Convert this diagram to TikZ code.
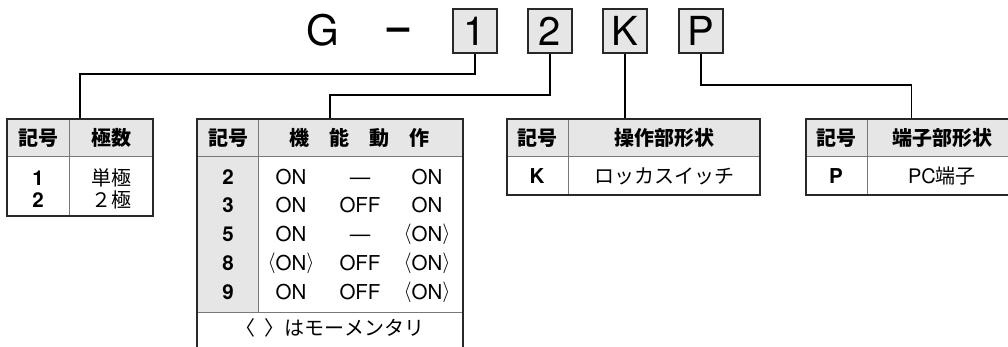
\documentclass[tikz,border=0pt]{standalone}
\usepackage{fontspec}
\setmainfont{Noto Sans CJK JP}
\newfontfamily\latin{TeX Gyre Heros}
\usepackage{tikz}
\usepackage{xcolor}
\definecolor{framegray}{RGB}{40,40,40}
\definecolor{rulegray}{RGB}{120,120,120}
\definecolor{headgray}{RGB}{230,230,230}
\newcommand{\mom}[1]{\raisebox{1.5pt}{$\bigl\langle$}#1\raisebox{1.5pt}{$\bigr\rangle$}}

\tikzset{
    codebox/.style={draw=framegray, line width=1.3pt, fill=headgray, minimum size=44pt,
        inner sep=0pt, font=\latin\fontsize{40}{42}\selectfont},
    bigtxt/.style={inner sep=0pt, font=\latin\fontsize{42}{44}\selectfont},
    frame/.style={draw=framegray, line width=1.3pt, inner sep=0pt},
    rule/.style={draw=rulegray, line width=1pt},
    link/.style={draw=black, line width=1.3pt},
    jp/.style={inner sep=0pt, font=\fontsize{20}{22}\selectfont},
    jphead/.style={inner sep=0pt, font=\fontsize{20}{22}\selectfont\bfseries},
    num/.style={inner sep=0pt, text height=14.7pt, text depth=0pt,
        font=\latin\bfseries\fontsize{20.5}{22}\selectfont},
    onoff/.style={inner sep=0pt, text height=14.7pt, text depth=0pt,
        font=\latin\fontsize{20.5}{22}\selectfont},
}

\begin{document}
\begin{tikzpicture}[x=1pt, y=-1pt]
    \clip (0,0) rectangle (1008,347);

    % header shading and inner rules
    \foreach \l/\r/\s/\b in {7/153/69/216, 197/463/258/312, 507/760/568/195, 806/1017/867/195} {
        \fill[headgray] (\l,119) rectangle (\r,157);
        \draw[rule] (\l,157) -- (\r,157);
        \draw[rule] (\s,119) -- (\s,\b);
    }
    \fill[headgray] (197,157.5) rectangle (257.5,311.5);
    \draw[rule] (258,157) -- (258,312);
    \draw[rule] (197,312) -- (463,312);

    % table frames
    \node[frame, minimum width=146pt, minimum height=97pt] (t1) at (80,167.5) {};
    \node[frame, minimum width=266pt, minimum height=241pt] (t2) at (330,239.5) {};
    \node[frame, minimum width=253pt, minimum height=76pt] (t3) at (633.5,157) {};
    \node[frame, minimum width=211pt, minimum height=76pt] (t4) at (911.5,157) {};

    % model code
    \node[bigtxt] (g) at (323,30) {G};
    \node[bigtxt, font=\latin\bfseries\fontsize{40}{42}\selectfont] (dash) at (399,34) {–};
    \node[codebox] (b1) at (475,31) {1};
    \node[codebox] (b2) at (550,31) {2};
    \node[codebox] (bK) at (625,31) {K};
    \node[codebox] (bP) at (701,31) {P};

    % connectors
    \coordinate (j1) at (80,74);
    \coordinate (j2) at (330,95);
    \coordinate (j4) at (911.5,85);
    \draw[link] (b1.south) |- (j1) -- (t1.north);
    \draw[link] (b2.south) |- (j2) -- (t2.north);
    \draw[link] (bK.south) -- (bK.south |- t3.north);
    \draw[link] (bP.south) |- (j4) -- (t4.north);

    % poles
    \node[jphead] (h1a) at (38,138) {記号};
    \node[jphead] (h1b) at (111,138) {極数};
    \node[num] (p1) at (38,178) {1};
    \node[num] (p2) at (38,200) {2};
    \node[jp] (p1t) at (111,178) {単極};
    \node[jp] (p2t) at (111,200) {２極};

    % function
    \node[jphead] (h2a) at (228,138) {記号};
    \node[jphead] (h2b) at (359,138) {機\quad 能\quad 動\quad 作};
    \foreach \y/\n/\a/\b/\c in {177/2/ON/—/ON, 205/3/ON/OFF/ON, 234/5/ON/—/{\mom{ON}},
        263/8/{\mom{ON}}/OFF/{\mom{ON}}, 292/9/ON/OFF/{\mom{ON}}} {
        \node[num] (f\n) at (228,\y) {\n};
        \node[onoff] (f\n-a) at (291,\y) {\a};
        \node[onoff] (f\n-b) at (360,\y) {\b};
        \node[onoff] (f\n-c) at (427,\y) {\c};
    }
    \node[jp] (note) at (330,328) {〈\hspace{0.45em}〉はモーメンタリ};

    % actuator
    \node[jphead] (h3a) at (537,138) {記号};
    \node[jphead] (h3b) at (664,138) {操作部形状};
    \node[num] (k) at (537,176) {K};
    \node[jp] (kt) at (664,176) {ロッカスイッチ};

    % terminal
    \node[jphead] (h4a) at (836,138) {記号};
    \node[jphead] (h4b) at (942,138) {端子部形状};
    \node[num] (p) at (836,176) {P};
    \node[jp] (pt) at (942,176) {{\latin PC}端子};
\end{tikzpicture}
\end{document}
